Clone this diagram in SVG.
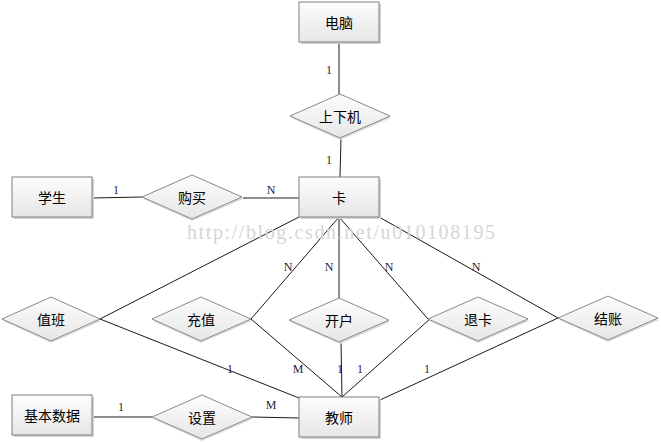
<svg xmlns="http://www.w3.org/2000/svg" width="661" height="443" viewBox="0 0 661 443">
<style>
.ent rect.b{fill:url(#g);stroke:#7f7f7f;stroke-width:1}
.ent rect.s{fill:#d4d4d4}
.rel polygon.b{fill:url(#g);stroke:#8a8a8a;stroke-width:1}
.rel polygon.s{fill:#dcdcdc}
.lbl{font-family:"Noto Sans CJK SC","Liberation Sans",sans-serif;font-size:14px;fill:#000;text-anchor:middle;dominant-baseline:central}
.card{font-family:"Liberation Serif",serif;font-size:12px;fill:#2a1a3a;text-anchor:middle}
#connectors line,#connectors polyline{stroke:#1a1a1a;stroke-width:1;fill:none}
.wm{font-family:"Liberation Serif",serif;font-size:20px;fill:#d6d6d6}
</style>
<defs>
<linearGradient id="g" x1="0" y1="0" x2="0" y2="1">
<stop offset="0" stop-color="#fdfdfd"/>
<stop offset="1" stop-color="#e6e6e6"/>
</linearGradient>
</defs>
<rect width="661" height="443" fill="#fff"/>
<g id="connectors">
<line x1="339" y1="43" x2="339" y2="94"/>
<line x1="341" y1="138" x2="340" y2="177"/>
<line x1="92" y1="198" x2="142" y2="197"/>
<line x1="243" y1="198" x2="299" y2="198"/>
<line x1="92" y1="417" x2="152" y2="417"/>
<line x1="252" y1="417" x2="299" y2="418"/>
<line x1="299" y1="217" x2="100" y2="319"/>
<line x1="100" y1="319" x2="299" y2="398"/>
<line x1="339" y1="217" x2="251" y2="319"/>
<line x1="251" y1="319" x2="342" y2="397"/>
<line x1="339" y1="217" x2="339" y2="298"/>
<line x1="341" y1="341" x2="342" y2="397"/>
<line x1="339" y1="217" x2="428" y2="319"/>
<line x1="430" y1="319" x2="342" y2="397"/>
<line x1="379" y1="217" x2="558" y2="318"/>
<line x1="558" y1="318" x2="380" y2="400"/>
</g>
<text class="wm" x="187" y="239" textLength="308" lengthAdjust="spacing">http://blog.csdn.net/u010108195</text>
<g id="n-diannao" class="ent"><rect class="s" x="301" y="4" width="80" height="40"/><rect class="b" x="299" y="2" width="80" height="40"/><text class="lbl" x="339" y="22">电脑</text></g>
<g id="n-shangxiaji" class="rel"><polygon class="s" points="340,96 391,118 340,140 291,118"/><polygon class="b" points="340,94 390,116 340,138 290,116"/><text class="lbl" x="340" y="116">上下机</text></g>
<g id="n-ka" class="ent"><rect class="s" x="301" y="179" width="80" height="40"/><rect class="b" x="299" y="177" width="80" height="40"/><text class="lbl" x="339" y="197">卡</text></g>
<g id="n-xuesheng" class="ent"><rect class="s" x="14" y="179" width="80" height="40"/><rect class="b" x="12" y="177" width="80" height="40"/><text class="lbl" x="52" y="197">学生</text></g>
<g id="n-goumai" class="rel"><polygon class="s" points="192,177 243,199 192,221 143,199"/><polygon class="b" points="192,175 242,197 192,219 142,197"/><text class="lbl" x="192" y="197">购买</text></g>
<g id="n-zhiban" class="rel"><polygon class="s" points="51,299 101,321 51,343 3,321"/><polygon class="b" points="51,297 100,319 51,341 2,319"/><text class="lbl" x="51" y="319">值班</text></g>
<g id="n-chongzhi" class="rel"><polygon class="s" points="201,299 252,321 201,343 153,321"/><polygon class="b" points="201,297 251,319 201,341 152,319"/><text class="lbl" x="201" y="319">充值</text></g>
<g id="n-kaihu" class="rel"><polygon class="s" points="340,300 390,322 340,344 290,322"/><polygon class="b" points="339,298 389,320 339,342 289,320"/><text class="lbl" x="339" y="320">开户</text></g>
<g id="n-tuika" class="rel"><polygon class="s" points="478,299 529,321 478,343 429,321"/><polygon class="b" points="478,297 528,319 478,341 428,319"/><text class="lbl" x="478" y="319">退卡</text></g>
<g id="n-jiezhang" class="rel"><polygon class="s" points="608,298 659,320 608,342 559,320"/><polygon class="b" points="608,296 658,318 608,340 558,318"/><text class="lbl" x="608" y="318">结账</text></g>
<g id="n-jibenshuju" class="ent"><rect class="s" x="14" y="397" width="80" height="40"/><rect class="b" x="12" y="395" width="80" height="40"/><text class="lbl" x="52" y="415">基本数据</text></g>
<g id="n-shezhi" class="rel"><polygon class="s" points="202,397 253,419 202,441 153,419"/><polygon class="b" points="202,395 252,417 202,439 152,417"/><text class="lbl" x="202" y="417">设置</text></g>
<g id="n-jiaoshi" class="ent"><rect class="s" x="301" y="399" width="80" height="40"/><rect class="b" x="299" y="397" width="80" height="40"/><text class="lbl" x="339" y="417">教师</text></g>
<g id="labels">
<text class="card" x="329" y="74">1</text>
<text class="card" x="329" y="164">1</text>
<text class="card" x="116" y="194">1</text>
<text class="card" x="271" y="194">N</text>
<text class="card" x="288" y="271">N</text>
<text class="card" x="329" y="271">N</text>
<text class="card" x="389" y="271">N</text>
<text class="card" x="476" y="271">N</text>
<text class="card" x="230" y="373">1</text>
<text class="card" x="298" y="373">M</text>
<text class="card" x="340" y="373">1</text>
<text class="card" x="360" y="373">1</text>
<text class="card" x="427" y="373">1</text>
<text class="card" x="121" y="411">1</text>
<text class="card" x="271" y="409">M</text>
</g>
</svg>
